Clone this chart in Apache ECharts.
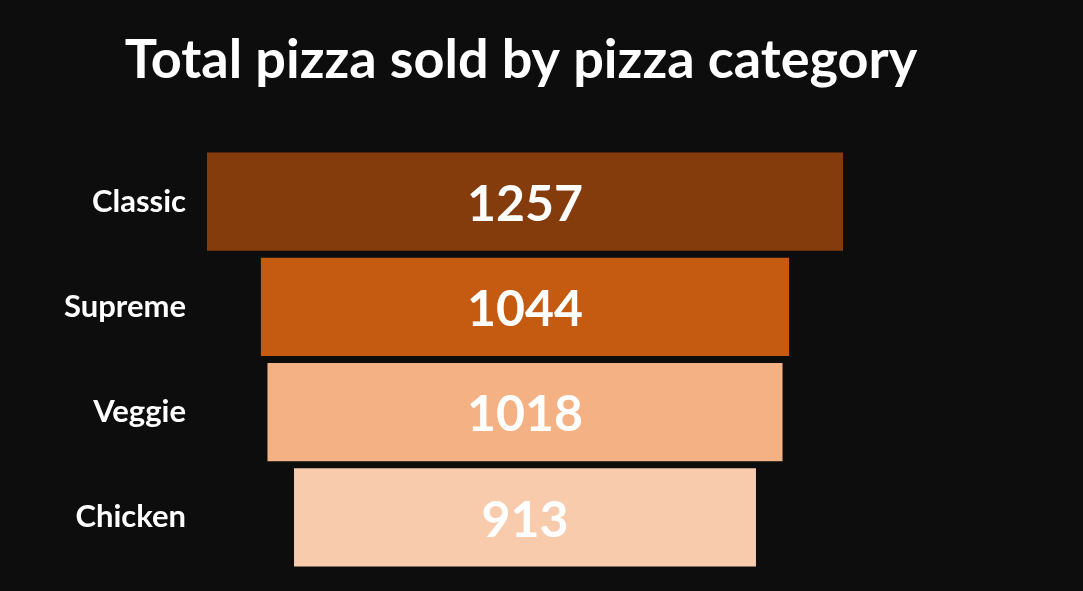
<!DOCTYPE html>
<html>
<head>
<meta charset="utf-8">
<script src="https://cdn.jsdelivr.net/npm/echarts@6/dist/echarts.min.js"></script>
<style>
  html, body { margin: 0; padding: 0; background: #0d0d0d; }
  #chart { width: 1083px; height: 591px; }
</style>
</head>
<body>
<div id="chart"></div>
<script>
var categories = ['Classic', 'Supreme', 'Veggie', 'Chicken'];
var values = [1257, 1044, 1018, 913];
var colors = ['#843C0C', '#C55A11', '#F4B183', '#F8CBAD'];

var maxVal = Math.max.apply(null, values);
// invisible offset so each bar is centred like a funnel
var offsets = values.map(function (v) { return (maxVal - v) / 2; });

var myChart = echarts.init(document.getElementById('chart'));
var option = {
    backgroundColor: '#0d0d0d',
    title: {
        text: 'Total pizza sold by pizza category',
        left: 516,
        top: 29,
        textAlign: 'center',
        textStyle: {
            color: '#ffffff',
            fontFamily: 'Lato',
            fontWeight: 'bold',
            fontSize: 54
        }
    },
    grid: {
        left: 207,
        width: 636,
        top: 149,
        bottom: 21
    },
    xAxis: {
        type: 'value',
        min: 0,
        max: maxVal,
        show: false
    },
    yAxis: {
        type: 'category',
        data: categories,
        inverse: true,
        axisLine: { show: false },
        axisTick: { show: false },
        axisLabel: {
            color: '#ffffff',
            fontFamily: 'Lato',
            fontWeight: 'bold',
            fontSize: 31,
            margin: 21,
            padding: [5, 0, 0, 0]
        }
    },
    series: [
        {
            type: 'bar',
            stack: 'f',
            silent: true,
            itemStyle: { color: 'transparent' },
            data: offsets,
            barCategoryGap: '6.5%'
        },
        {
            type: 'bar',
            stack: 'f',
            barCategoryGap: '6.5%',
            data: values.map(function (v, i) {
                return { value: v, itemStyle: { color: colors[i] } };
            }),
            label: {
                show: true,
                position: 'inside',
                offset: [0, 3],
                color: '#ffffff',
                fontFamily: 'Lato',
                fontWeight: 'bold',
                fontSize: 50
            }
        }
    ]
};
myChart.setOption(option);
</script>
</body>
</html>
